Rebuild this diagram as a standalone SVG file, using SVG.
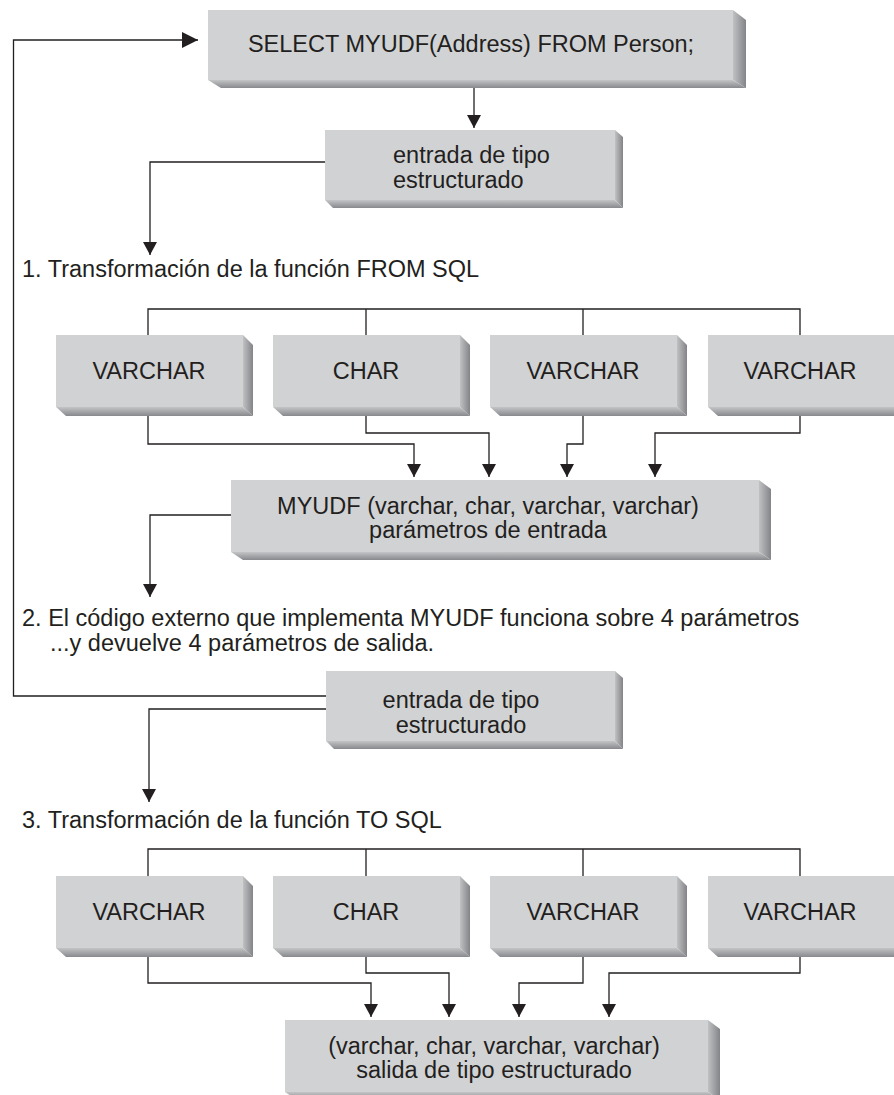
<svg xmlns="http://www.w3.org/2000/svg" width="894" height="1095" viewBox="0 0 894 1095">
<defs>
<style>
.face{fill:#d1d2d4}
.rb{fill:url(#gR)}
.bb{fill:url(#gB)}
.t{font-family:"Liberation Sans",Arial,Helvetica,sans-serif;font-size:23.5px;fill:#231f20}
.m{text-anchor:middle}
.ln{fill:none;stroke:#231f20;stroke-width:1.3}
.ar{marker-end:url(#ah)}
.arL{marker-end:url(#ahL)}
</style>
<linearGradient id="gR" x1="0" y1="0" x2="1" y2="0"><stop offset="0" stop-color="#c0c1c3"/><stop offset="1" stop-color="#838487"/></linearGradient>
<linearGradient id="gB" x1="0" y1="0" x2="0" y2="1"><stop offset="0" stop-color="#c3c4c6"/><stop offset="1" stop-color="#88898c"/></linearGradient>
<marker id="ah" markerUnits="userSpaceOnUse" markerWidth="14" markerHeight="14" refX="13" refY="7" orient="auto"><path d="M0,0 L13,7 L0,14 z" fill="#231f20"/></marker>
<marker id="ahL" markerUnits="userSpaceOnUse" markerWidth="17" markerHeight="16" refX="16" refY="8" orient="auto"><path d="M0,0 L16,8 L0,16 z" fill="#231f20"/></marker>
</defs>
<rect width="894" height="1095" fill="#ffffff"/>

<g id="connectors">
<path class="ln arL" d="M326,696 H13.5 V40 H198"/>
<path class="ln ar" d="M474,88 V128"/>
<path class="ln ar" d="M325,162 H150 V255"/>
<path class="ln" d="M148,335 V309 H800 V335 M366,309 V335 M583,309 V335"/>
<path class="ln ar" d="M148,416 V444 H414 V477"/>
<path class="ln ar" d="M366,416 V433 H489 V477"/>
<path class="ln ar" d="M583,416 V444 H567 V477"/>
<path class="ln ar" d="M800,416 V433 H655 V477"/>
<path class="ln ar" d="M231,515 H150 V597"/>
<path class="ln ar" d="M326,709 H149 V802"/>
<path class="ln" d="M148,876 V849 H800 V876 M366,849 V876 M583,849 V876"/>
<path class="ln ar" d="M148,957 V983 H371 V1017"/>
<path class="ln ar" d="M366,957 V973 H449 V1017"/>
<path class="ln ar" d="M583,957 V983 H519 V1017"/>
<path class="ln ar" d="M800,957 V973 H609 V1017"/>
</g>

<g id="select">
<rect class="face" x="208" y="10" width="525" height="70"/>
<polygon class="rb" points="733,10 746,20 746,88 733,80"/>
<polygon class="bb" points="208,80 733,80 746,88 221,88"/>
<text class="t m" x="471" y="52">SELECT MYUDF(Address) FROM Person;</text>
</g>

<g id="entrada1">
<rect class="face" x="325" y="130" width="290" height="70"/>
<polygon class="rb" points="615,130 623,137 623,208 615,200"/>
<polygon class="bb" points="325,200 615,200 623,208 333,208"/>
<text class="t" x="393" y="163">entrada de tipo</text>
<text class="t" x="393" y="188">estructurado</text>
</g>

<g id="label1">
<text class="t" x="22" y="277">1. Transformación de la función FROM SQL</text>
</g>

<g id="r1b1">
<rect class="face" x="56" y="335" width="187" height="72"/>
<polygon class="rb" points="243,335 253,345 253,416 243,407"/>
<polygon class="bb" points="56,407 243,407 253,416 66,416"/>
<text class="t m" x="149" y="379">VARCHAR</text>
</g>
<g id="r1b2">
<rect class="face" x="273" y="335" width="187" height="72"/>
<polygon class="rb" points="460,335 470,345 470,416 460,407"/>
<polygon class="bb" points="273,407 460,407 470,416 283,416"/>
<text class="t m" x="366" y="379">CHAR</text>
</g>
<g id="r1b3">
<rect class="face" x="490" y="335" width="187" height="72"/>
<polygon class="rb" points="677,335 687,345 687,416 677,407"/>
<polygon class="bb" points="490,407 677,407 687,416 500,416"/>
<text class="t m" x="583" y="379">VARCHAR</text>
</g>
<g id="r1b4">
<rect class="face" x="708" y="335" width="187" height="72"/>
<polygon class="rb" points="895,335 905,345 905,416 895,407"/>
<polygon class="bb" points="708,407 895,407 905,416 718,416"/>
<text class="t m" x="800" y="379">VARCHAR</text>
</g>

<g id="myudf">
<rect class="face" x="231" y="480" width="528" height="72"/>
<polygon class="rb" points="759,480 771,489 771,560 759,552"/>
<polygon class="bb" points="231,552 759,552 771,560 243,560"/>
<text class="t m" x="488" y="514">MYUDF (varchar, char, varchar, varchar)</text>
<text class="t m" x="488" y="538">parámetros de entrada</text>
</g>

<g id="label2">
<text class="t" x="22" y="626">2. El código externo que implementa MYUDF funciona sobre 4 parámetros</text>
<text class="t" x="50" y="651">...y devuelve 4 parámetros de salida.</text>
</g>

<g id="entrada2">
<rect class="face" x="326" y="671" width="289" height="70"/>
<polygon class="rb" points="615,671 623,678 623,749 615,741"/>
<polygon class="bb" points="326,741 615,741 623,749 334,749"/>
<text class="t m" x="461" y="708">entrada de tipo</text>
<text class="t m" x="461" y="733">estructurado</text>
</g>

<g id="label3">
<text class="t" x="22" y="828">3. Transformación de la función TO SQL</text>
</g>

<g id="r2b1">
<rect class="face" x="56" y="876" width="187" height="72"/>
<polygon class="rb" points="243,876 253,886 253,957 243,948"/>
<polygon class="bb" points="56,948 243,948 253,957 66,957"/>
<text class="t m" x="149" y="920">VARCHAR</text>
</g>
<g id="r2b2">
<rect class="face" x="273" y="876" width="187" height="72"/>
<polygon class="rb" points="460,876 470,886 470,957 460,948"/>
<polygon class="bb" points="273,948 460,948 470,957 283,957"/>
<text class="t m" x="366" y="920">CHAR</text>
</g>
<g id="r2b3">
<rect class="face" x="490" y="876" width="187" height="72"/>
<polygon class="rb" points="677,876 687,886 687,957 677,948"/>
<polygon class="bb" points="490,948 677,948 687,957 500,957"/>
<text class="t m" x="583" y="920">VARCHAR</text>
</g>
<g id="r2b4">
<rect class="face" x="708" y="876" width="187" height="72"/>
<polygon class="rb" points="895,876 905,886 905,957 895,948"/>
<polygon class="bb" points="708,948 895,948 905,957 718,957"/>
<text class="t m" x="800" y="920">VARCHAR</text>
</g>

<g id="salida">
<rect class="face" x="285" y="1020" width="423" height="72"/>
<polygon class="rb" points="708,1020 720,1029 720,1100 708,1092"/>
<polygon class="bb" points="285,1092 708,1092 720,1100 297,1100"/>
<text class="t m" x="494" y="1054">(varchar, char, varchar, varchar)</text>
<text class="t m" x="494" y="1078">salida de tipo estructurado</text>
</g>
</svg>
